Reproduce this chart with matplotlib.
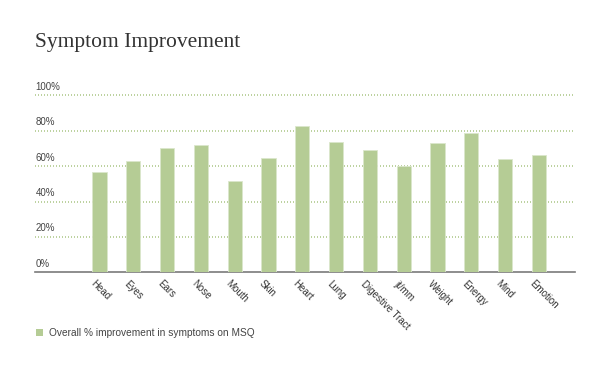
import matplotlib
matplotlib.use("Agg")
import matplotlib.pyplot as plt
from matplotlib.patches import Rectangle
from matplotlib.transforms import ScaledTranslation

categories = ["Head", "Eyes", "Ears", "Nose", "Mouth", "Skin", "Heart", "Lung",
              "Digestive Tract", "jt/mm", "Weight", "Energy", "Mind", "Emotion"]
values = [56.5, 62.9, 70.3, 72.0, 51.6, 64.6, 82.7, 73.5, 69.1, 60.1, 72.9, 78.9, 63.8, 66.3]
yticks = [0, 20, 40, 60, 80, 100]
ytick_labels = ["0%", "20%", "40%", "60%", "80%", "100%"]
series_label = "Overall % improvement in symptoms on MSQ"
title = "Symptom Improvement"

bar_color = "#b5cc95"
grid_color = "#b0ca8d"
text_color = "#333333"

fig = plt.figure(figsize=(6.16, 3.79), dpi=100)
ax = fig.add_axes([35/616, 1-272.3/379, 540/616, (272.3-95.3)/379])

x = list(range(len(categories)))
ax.bar(x, values, width=0.42, color=bar_color, edgecolor="#dbe7cc", linewidth=0.6, zorder=3)

xlo, xhi = -1.91, 14.07
ax.set_xlim(xlo, xhi)
ax.set_ylim(0, 100)

grid_levels = [v for v in yticks if v > 0]
ax.hlines(grid_levels, xlo, xhi, colors=grid_color, linestyles=[(0, (0.6, 1.2))],
          linewidth=1.2, zorder=1, clip_on=False)
for v, lab in zip(yticks, ytick_labels):
    ax.annotate(lab, xy=(0, v), xycoords=("axes fraction", "data"), xytext=(0.5, 2.5),
                textcoords="offset points", ha="left", va="bottom", fontsize=7,
                color="#444444", family="Liberation Sans", zorder=2)

for s in ["top", "right", "left"]:
    ax.spines[s].set_visible(False)
ax.spines["bottom"].set_color("#7a7a7a")
ax.spines["bottom"].set_linewidth(1.2)
ax.set_yticks([])
ax.set_xticks(x)
ax.set_xticklabels(categories, rotation=-45, ha="left", va="top", rotation_mode="anchor",
                   fontsize=7, color=text_color, family="Liberation Sans")
ax.tick_params(axis="x", length=0, pad=4.5)
offset = ScaledTranslation(-4/100, 0, fig.dpi_scale_trans)
for t in ax.get_xticklabels():
    t.set_transform(t.get_transform() + offset)

fig.text(35/616, 1-47/379, title, fontsize=15.5, color=text_color, family="Liberation Serif",
         ha="left", va="baseline")

fig.patches.append(Rectangle((36/616, 1-336/379), 7/616, 7/379, transform=fig.transFigure,
                             facecolor=bar_color, edgecolor="none"))
fig.text(49/616, 1-333/379, series_label, fontsize=7.3, color="#444444", family="Liberation Sans",
         ha="left", va="center")

fig.savefig("out.png", dpi=100)
